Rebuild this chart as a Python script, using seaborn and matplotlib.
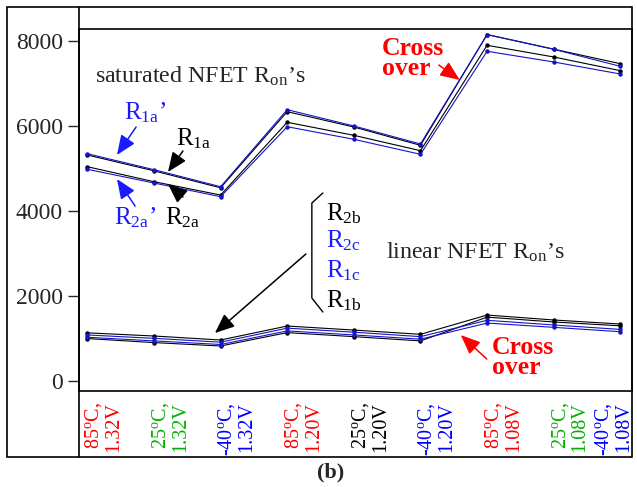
import numpy as np
import pandas as pd
import matplotlib
matplotlib.use("Agg")
import matplotlib.pyplot as plt
import seaborn as sns
from matplotlib.lines import Line2D
from matplotlib.patches import Rectangle
from matplotlib.transforms import ScaledTranslation

# ---------------- data ----------------
temps = ["85", "25", "-40", "85", "25", "-40", "85", "25", "-40"]
volts = ["1.32V", "1.32V", "1.32V", "1.20V", "1.20V", "1.20V", "1.08V", "1.08V", "1.08V"]
label_colors = ["#ff0000", "#00b400", "#0000ff", "#ff0000", "#000000",
                "#0000ff", "#ff0000", "#00b400", "#0000ff"]

# saturated NFET Ron's
r1a_p = [5353, 4977, 4576, 6390, 6006, 5582, 8156, 7812, 7411]   # R1a'  (blue)
r1a   = [5323, 4950, 4550, 6343, 5982, 5551, 8160, 7815, 7473]   # R1a   (black)
r2a   = [5047, 4694, 4380, 6093, 5786, 5424, 7906, 7631, 7308]   # R2a   (black)
r2a_p = [4986, 4663, 4341, 5989, 5692, 5339, 7765, 7513, 7230]   # R2a'  (blue)

# linear NFET Ron's
r2b = [1135, 1060, 966, 1295, 1200, 1100, 1554, 1437, 1342]      # black
r2c = [1085, 1005, 915, 1245, 1150, 1045, 1430, 1320, 1215]      # blue
r1c = [1030, 945, 860, 1180, 1085, 985, 1365, 1264, 1161]        # blue
r1b = [1000, 905, 825, 1140, 1045, 945, 1505, 1390, 1300]        # black

series = {"R1a": r1a, "R2a": r2a, "R2b": r2b, "R1b": r1b,
          "R1a'": r1a_p, "R2a'": r2a_p, "R2c": r2c, "R1c": r1c}
BLUE = "#1414c8"
palette = {"R1a": "black", "R2a": "black", "R2b": "black", "R1b": "black",
           "R1a'": BLUE, "R2a'": BLUE, "R2c": BLUE, "R1c": BLUE}

rows = []
for name, vals in series.items():
    for i, v in enumerate(vals):
        rows.append({"x": i, "value": v, "series": name})
df = pd.DataFrame(rows)

# ---------------- style ----------------
sns.set_style("white")
plt.rcParams["font.family"] = ["Liberation Serif", "DejaVu Serif"]
plt.rcParams["mathtext.fontset"] = "custom"
plt.rcParams["mathtext.rm"] = "Liberation Serif"
plt.rcParams["mathtext.it"] = "Liberation Serif:italic"
plt.rcParams["mathtext.bf"] = "Liberation Serif:bold"

fig = plt.figure(figsize=(6.37, 4.87), dpi=100)
W, H = 637.0, 487.0
ax = fig.add_axes([79 / W, 1 - 391 / H, (632 - 79) / W, (391 - 29.5) / H])

sns.lineplot(data=df, x="x", y="value", hue="series", hue_order=list(series.keys()),
             palette=palette, marker="o", markersize=3.2, markeredgewidth=0,
             linewidth=0.8, legend=False, sort=False, ax=ax)

ax.set_xlim(-0.125, 8.175)
ax.set_ylim(-235, 8278)
ax.set_xlabel("")
ax.set_ylabel("")

for s in ax.spines.values():
    s.set_linewidth(1.2)
    s.set_color("black")

ax.set_yticks([0, 2000, 4000, 6000, 8000])
ax.tick_params(axis="y", direction="out", length=8, width=1, pad=3.5,
               labelsize=17, left=True)

xt_labels = [f"{t}$^{{\\mathrm{{o}}}}$C,\n{v}" for t, v in zip(temps, volts)]
ax.set_xticks(range(len(temps)))
ax.set_xticklabels(xt_labels, rotation=90, ha="left", va="top",
                   multialignment="right", fontsize=14.5, linespacing=1.0)
ax.tick_params(axis="x", length=0, pad=8)
labs = ax.get_xticklabels()
for k, (lab, c) in enumerate(zip(labs, label_colors)):
    lab.set_color(c)
    dx = -27 if k == len(labs) - 1 else -4
    lab.set_transform(lab.get_transform() + ScaledTranslation(dx / 100, 0, fig.dpi_scale_trans))

# ---------------- frame lines (figure) ----------------
fig.patches.append(Rectangle((7 / W, 1 - 457 / H), (632 - 7) / W, (457 - 7) / H,
                             transform=fig.transFigure, fill=False,
                             edgecolor="black", linewidth=1.2))
fig.lines.append(Line2D([79 / W, 79 / W], [1 - 457 / H, 1 - 7 / H],
                        transform=fig.transFigure, color="black", linewidth=1.2))

fig.text(331 / W, 1 - 472 / H, "(b)", ha="center", va="center",
         fontsize=16, fontweight="bold")

# ---------------- annotations ----------------
RED = "#ff0000"
TBLUE = "#1a1aff"


def arrow(xy_from, xy_to, color):
    ax.annotate("", xy=xy_to, xytext=xy_from,
                arrowprops=dict(arrowstyle="-|>,head_length=0.6,head_width=0.25",
                                color=color, lw=1.1, shrinkA=0, shrinkB=0,
                                mutation_scale=20))


ax.text(0.115, 7183, "saturated NFET R$_{\\mathrm{on}}$’s", fontsize=17.3,
        ha="left", va="center")
ax.text(4.48, 3038, "linear NFET R$_{\\mathrm{on}}$’s", fontsize=17.3,
        ha="left", va="center")

ax.text(0.55, 6170, "R$_{\\mathrm{1a}}$’", fontsize=18, color=TBLUE, ha="left", va="baseline")
arrow((0.732, 5982), (0.445, 5323), TBLUE)
ax.text(1.33, 5558, "R$_{\\mathrm{1a}}$", fontsize=18, color="black", ha="left", va="baseline")
arrow((1.435, 5417), (1.21, 4922), "black")
ax.text(0.40, 3698, "R$_{\\mathrm{2a}}$’", fontsize=18, color=TBLUE, ha="left", va="baseline")
arrow((0.717, 4121), (0.445, 4757), TBLUE)
ax.text(1.165, 3698, "R$_{\\mathrm{2a}}$", fontsize=18, color="black", ha="left", va="baseline")
arrow((1.435, 4333), (1.21, 4640), "black")

for txt, yb, col in [("R$_{\\mathrm{2b}}$", 3792, "black"),
                     ("R$_{\\mathrm{2c}}$", 3156, TBLUE),
                     ("R$_{\\mathrm{1c}}$", 2449, TBLUE),
                     ("R$_{\\mathrm{1b}}$", 1743, "black")]:
    ax.text(3.58, yb, txt, fontsize=18, color=col, ha="left", va="baseline")

ax.add_line(Line2D([3.535, 3.37, 3.37, 3.535], [4428, 4192, 1955, 1625],
                   color="black", linewidth=1.0))
arrow((3.28, 2991), (1.915, 1130), "black")

ax.text(4.42, 7595, "Cross\nover", fontsize=18.5, fontweight="bold", color=RED,
        ha="left", va="center", linespacing=0.8)
arrow((5.275, 7442), (5.59, 7089), RED)
ax.text(6.07, 553, "Cross\nover", fontsize=18.5, fontweight="bold", color=RED,
        ha="left", va="center", linespacing=0.8)
arrow((5.995, 518), (5.605, 1083), RED)

fig.savefig("out.png", dpi=100)
